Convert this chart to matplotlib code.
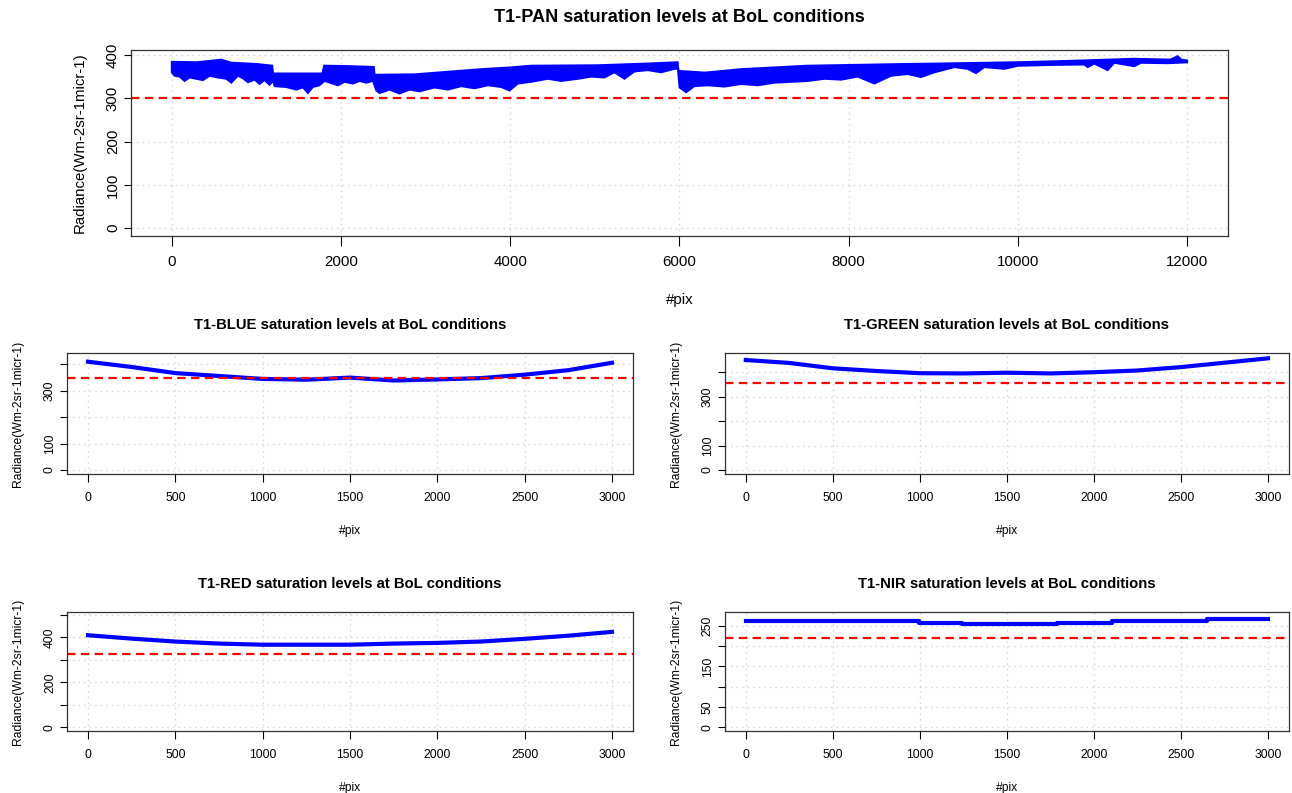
import numpy as np
import matplotlib
matplotlib.use("Agg")
import matplotlib.pyplot as plt

plt.rcParams['font.family'] = ['Liberation Sans', 'DejaVu Sans']

# ---- PAN band: upper and lower edge ----
pan_hi_x = [0, 300, 587, 700, 1000, 1190, 1200, 1780, 1800, 2100, 2390, 2400, 2870, 3264,
            3657, 4004, 4248, 5035, 5626, 5980, 5990, 6300, 6728, 7516, 8697, 9067, 9996,
            10587, 11374, 11800, 11886, 11930, 12000]
pan_hi = [385, 384, 390, 383, 380, 376, 358, 358, 376, 375, 373, 355, 356, 362,
          368, 372, 376, 377, 381, 384, 364, 360, 368, 376, 380, 381, 384,
          387, 392, 390, 398, 390, 388]
pan_lo_x = [0, 35, 94, 153, 213, 291, 370, 449, 547, 646, 705, 783, 843, 902, 980, 1039,
            1098, 1157, 1197, 1217, 1354, 1472, 1551, 1610, 1669, 1748, 1807, 1886, 1965,
            2043, 2142, 2220, 2299, 2378, 2417, 2457, 2575, 2693, 2811, 2929, 3106, 3264,
            3421, 3579, 3736, 3894, 3992, 4091, 4248, 4445, 4602, 4799, 4957, 5114, 5232,
            5350, 5469, 5626, 5783, 5941, 5980, 6000, 6079, 6177, 6335, 6531, 6728, 6925,
            7122, 7319, 7516, 7713, 7909, 8106, 8303, 8500, 8697, 8854, 9012, 9248, 9405,
            9504, 9602, 9839, 9996, 10390, 10783, 10823, 10902, 11059, 11138, 11374,
            11453, 11768, 12000]
pan_lo = [360, 352, 350, 340, 348, 345, 342, 352, 348, 345, 336, 352, 346, 337, 343, 333,
          342, 331, 340, 328, 326, 320, 325, 312, 326, 330, 340, 335, 330,
          338, 334, 340, 336, 340, 318, 312, 320, 311, 320, 316, 325, 320,
          328, 323, 330, 326, 318, 334, 338, 345, 340, 345, 350, 348, 360,
          345, 362, 365, 360, 368, 368, 325, 314, 328, 330, 327, 333, 330,
          336, 338, 340, 345, 343, 350, 334, 352, 356, 349, 360, 372, 368,
          358, 372, 368, 375, 377, 378, 372, 380, 365, 382, 374,
          382, 381, 383]
pan_thr = 300

# ---- 4 multispectral bands ----
ms_x = [0, 250, 500, 750, 1000, 1250, 1500, 1750, 2000, 2250, 2500, 2750, 3000]
blue_y = [409, 389, 366, 355, 344, 341, 349, 338, 342, 347, 360, 377, 405]
green_y = [451, 439, 417, 406, 397, 396, 399, 396, 401, 408, 422, 440, 458]
red_y = [409, 394, 381, 372, 367, 367, 367, 372, 375, 381, 393, 407, 424]
nir_x = [0, 684, 997, 1244, 1507, 1790, 2102, 2408, 2652, 3000]
nir_y = [263, 261, 258, 255, 254, 257, 261, 263, 266, 266]
blue_thr, green_thr, red_thr, nir_thr = 347, 357, 327, 221

ylab = "Radiance(Wm-2sr-1micr-1)"


def style(ax, xt, yt, ylabels, xlim, ylim, fs, tfs, title, tpad, xlen, xtpad, xpad, ypad):
    ax.set_xlim(*xlim)
    ax.set_ylim(*ylim)
    ax.set_xticks(xt)
    ax.set_yticks(yt)
    ax.set_yticklabels(ylabels, rotation=90, va='center')
    ax.grid(True, color='lightgray', linestyle=(0, (1, 3)), linewidth=1)
    ax.set_axisbelow(True)
    ax.tick_params(axis='x', direction='out', length=xlen, width=0.8, labelsize=fs, pad=xtpad)
    ax.tick_params(axis='y', direction='out', length=5, width=0.8, labelsize=fs, pad=3)
    for s in ax.spines.values():
        s.set_color('#333333')
        s.set_linewidth(0.9)
    ax.set_title(title, fontsize=tfs, fontweight='bold', pad=tpad)
    ax.set_xlabel("#pix", fontsize=fs, labelpad=xpad)
    ax.set_ylabel(ylab, fontsize=fs, labelpad=ypad)


fig = plt.figure(figsize=(12.92, 7.93), dpi=100)

# PAN
ax = fig.add_axes([0.1014, 0.7024, 0.849, 0.2346])
ax.fill(pan_hi_x + pan_lo_x[::-1], pan_hi + pan_lo[::-1], color='blue',
        linewidth=1.2, edgecolor='blue')
ax.axhline(pan_thr, color='red', linewidth=1.6, dashes=(3.8, 2.4))
style(ax, np.arange(0, 12001, 2000), np.arange(0, 401, 100),
      ['0', '100', '200', '300', '400'], (-480, 12480), (-18, 412), 10.8, 13.1,
      "T1-PAN saturation levels at BoL conditions", 20, 7, 7, 17, 14)

# small panels
panels = [
    ([0.0519, 0.4023, 0.438, 0.1526], ms_x, blue_y, blue_thr, "T1-BLUE",
     np.arange(0, 401, 100), ['0', '100', '', '300', ''], (-15, 442)),
    ([0.5611, 0.4023, 0.4365, 0.1526], ms_x, green_y, green_thr, "T1-GREEN",
     np.arange(0, 401, 100), ['0', '100', '', '300', ''], (-16.6, 480)),
    ([0.0519, 0.0782, 0.438, 0.150], ms_x, red_y, red_thr, "T1-RED",
     np.arange(0, 501, 100), ['0', '', '200', '', '400', ''], (-16, 512)),
    ([0.5611, 0.0782, 0.4365, 0.150], nir_x, nir_y, nir_thr, "T1-NIR",
     np.arange(0, 251, 50), ['0', '50', '', '150', '', '250'], (-9, 284)),
]
for rect, x, y, thr, name, yt, yl, ylim in panels:
    ax = fig.add_axes(rect)
    if name == "T1-NIR":
        ax.plot(x, y, color='blue', linewidth=3, drawstyle='steps-post')
    else:
        ax.plot(x, y, color='blue', linewidth=3)
    ax.axhline(thr, color='red', linewidth=1.6, dashes=(3.8, 2.4))
    style(ax, np.arange(0, 3001, 500), yt, yl, (-120, 3120), ylim, 8.7, 10.7,
          name + " saturation levels at BoL conditions", 17, 6, 7, 15, 14.5)

fig.savefig("out.png", dpi=100)
